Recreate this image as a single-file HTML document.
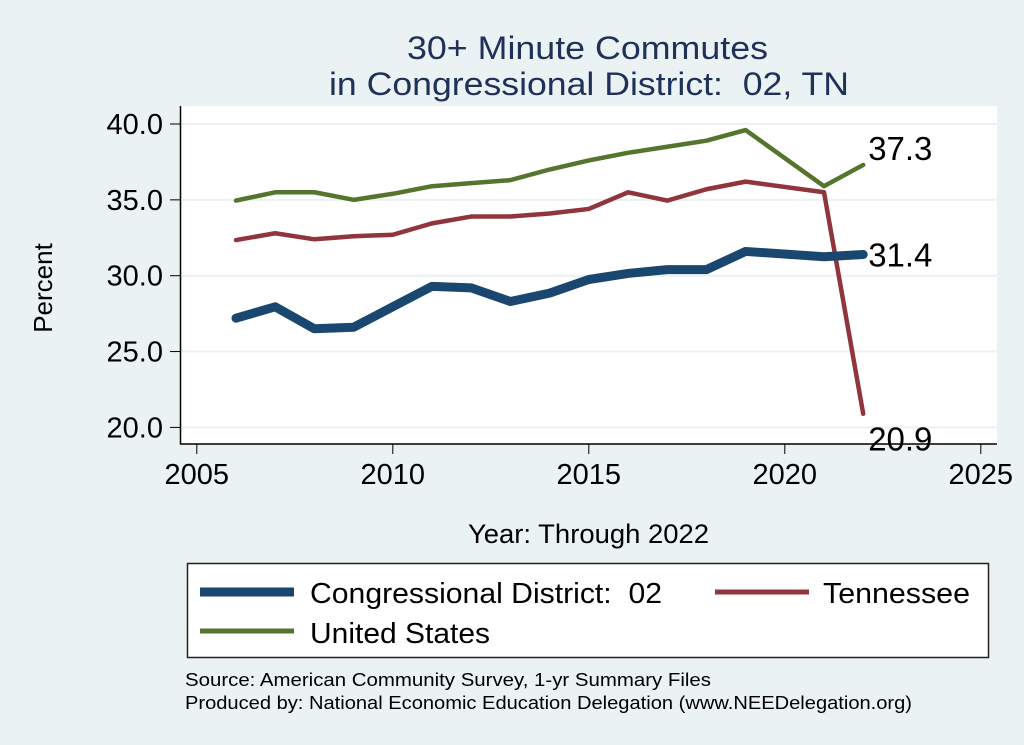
<!DOCTYPE html>
<html><head><meta charset="utf-8"><style>
body{margin:0;background:#eaf2f3}
svg{display:block;font-family:"Liberation Sans",Arial,sans-serif}
text{white-space:pre}
</style></head><body>
<svg id="chart" width="1024" height="745" viewBox="0 0 1024 745">
<rect width="1024" height="745" fill="#eaf2f3"/>
<text x="407" y="59" font-size="32" textLength="361" lengthAdjust="spacingAndGlyphs" fill="#1f3159">30+ Minute Commutes</text>
<text x="329" y="95" font-size="32" textLength="520" lengthAdjust="spacingAndGlyphs" fill="#1f3159">in Congressional District:  02, TN</text>
<rect x="180" y="106" width="817" height="338" fill="#fff"/>
<g id="grid"></g><g id="axes"></g><g id="series"></g>
<text transform="translate(52,288) rotate(-90)" font-size="26" text-anchor="middle">Percent</text>
<text x="468" y="543" font-size="27" textLength="241" lengthAdjust="spacingAndGlyphs">Year: Through 2022</text>
<g>
<rect x="187.5" y="563.5" width="801" height="94" fill="#fff" stroke="#222" stroke-width="1.5"/>
<line x1="200" y1="592" x2="294" y2="592" stroke="#1a476f" stroke-width="9"/>
<text x="310" y="603" font-size="29" textLength="352" lengthAdjust="spacingAndGlyphs">Congressional District:  02</text>
<line x1="715" y1="592" x2="809" y2="592" stroke="#90353b" stroke-width="5"/>
<text x="823" y="603" font-size="29" textLength="147" lengthAdjust="spacingAndGlyphs">Tennessee</text>
<line x1="200" y1="631" x2="294" y2="631" stroke="#55752f" stroke-width="5"/>
<text x="310" y="643" font-size="29" textLength="180" lengthAdjust="spacingAndGlyphs">United States</text>
</g>
<text x="185" y="686" font-size="18" textLength="526" lengthAdjust="spacingAndGlyphs">Source: American Community Survey, 1-yr Summary Files</text>
<text x="185" y="709" font-size="18" textLength="727" lengthAdjust="spacingAndGlyphs">Produced by: National Economic Education Delegation (www.NEEDelegation.org)</text>
</svg>
<script>
const years=[2006,2007,2008,2009,2010,2011,2012,2013,2014,2015,2016,2017,2018,2019,2021,2022];
const district=[27.2,27.95,26.5,26.6,27.95,29.3,29.2,28.3,28.85,29.75,30.15,30.4,30.4,31.6,31.25,31.4];
const tennessee=[32.35,32.8,32.4,32.6,32.7,33.45,33.9,33.9,34.1,34.4,35.5,34.95,35.7,36.2,35.5,20.9];
const us=[34.95,35.5,35.5,35.0,35.4,35.9,36.1,36.3,37.0,37.6,38.1,38.5,38.9,39.6,35.9,37.3];
const yTicks=[20,25,30,35,40];
const xTicks=[2005,2010,2015,2020,2025];
const NS="http://www.w3.org/2000/svg";
const xs=v=>196.8+(v-2005)*39.2;
const ys=v=>124+(40-v)*15.17;
function mk(t,a,p){const e=document.createElementNS(NS,t);for(const k in a)e.setAttribute(k,a[k]);p.appendChild(e);return e;}
const grid=document.getElementById('grid'),axes=document.getElementById('axes'),ser=document.getElementById('series');
yTicks.forEach(v=>{
 const g=mk('line',{x1:181,x2:997,y1:ys(v),y2:ys(v),stroke:'#eaf2f3','stroke-width':2},grid);
 
 
 const t=mk('line',{x1:170,x2:180,y1:ys(v),y2:ys(v),stroke:'#000','stroke-width':1},axes);
 
 
 const l=mk('text',{x:163,y:ys(v)+10,'font-size':29,'text-anchor':'end'},axes);
 l.textContent=v.toFixed(1);
 
 
});
xTicks.forEach(v=>{
 const t=mk('line',{x1:xs(v),x2:xs(v),y1:444,y2:454,stroke:'#000','stroke-width':1},axes);
 
 
 const l=mk('text',{x:xs(v),y:484,'font-size':29,'text-anchor':'middle'},axes);
 l.textContent=v;
 
 
});
const ya=mk('line',{x1:180.5,x2:180.5,y1:106,y2:444.5,stroke:'#000','stroke-width':1.5},axes);


const xa=mk('line',{x1:180,x2:997,y1:444,y2:444,stroke:'#000','stroke-width':1.5},axes);


function line(vals,color,w,name){
 const p=mk('polyline',{points:vals.map((v,i)=>xs(years[i])+','+ys(v)).join(' '),fill:'none',stroke:color,'stroke-width':w,'stroke-linejoin':'round','stroke-linecap':'round'},ser);
 
 
}
line(us,'#55752f',4.5,'line-united-states');
line(tennessee,'#90353b',4.5,'line-tennessee');
line(district,'#1a476f',9,'line-district');
const last=years.length-1;
const labels=[[us[last],ys(us[last])-5,'label-us-last'],[district[last],ys(district[last])+12,'label-district-last'],[tennessee[last],ys(tennessee[last])+37,'label-tennessee-last']];
labels.forEach(([v,y,n])=>{
 const t=mk('text',{x:xs(years[last])+5,y:y,'font-size':33},ser);
 t.textContent=v.toFixed(1);
 
 
});
</script>
</body></html>
